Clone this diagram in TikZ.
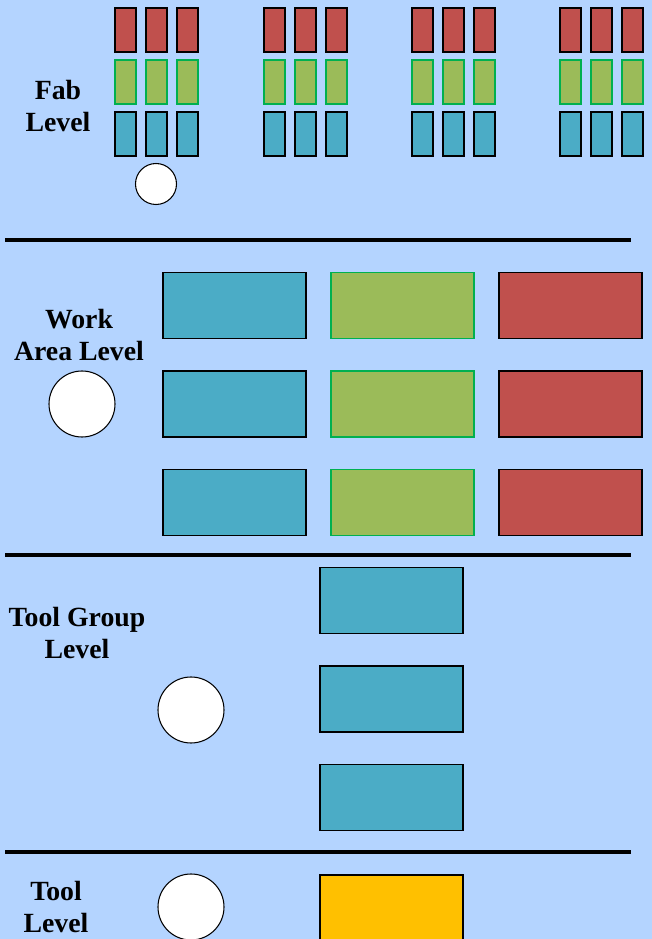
\documentclass[tikz,border=0pt]{standalone}
\usepackage{fontspec}
\setmainfont{Liberation Serif}
\usetikzlibrary{positioning}

\definecolor{pagebg}{RGB}{180,212,255}
\definecolor{cellred}{RGB}{192,80,77}
\definecolor{cellgreen}{RGB}{155,187,89}
\definecolor{cellblue}{RGB}{75,172,198}
\definecolor{cellorange}{RGB}{255,192,0}
\definecolor{edgegreen}{RGB}{0,176,80}

\begin{document}
\begin{tikzpicture}[
    line width=0.6pt,
    every node/.style={align=center},
    levellabel/.style={font=\bfseries\fontsize{15.8}{18.7}\selectfont},
    rule/.style={line width=2pt},
    toolA/.style={draw, fill=cellred, inner sep=0pt, minimum width=0.42cm, minimum height=0.88cm},
    toolB/.style={draw=edgegreen, fill=cellgreen, inner sep=0pt, minimum width=0.42cm, minimum height=0.88cm},
    toolC/.style={draw, fill=cellblue, inner sep=0pt, minimum width=0.42cm, minimum height=0.88cm},
    areaA/.style={draw, fill=cellred, inner sep=0pt, minimum width=2.86cm, minimum height=1.32cm},
    areaB/.style={draw=edgegreen, fill=cellgreen, inner sep=0pt, minimum width=2.86cm, minimum height=1.32cm},
    areaC/.style={draw, fill=cellblue, inner sep=0pt, minimum width=2.86cm, minimum height=1.32cm},
    toolbox/.style={draw, fill=cellorange, inner sep=0pt, minimum width=2.86cm, minimum height=1.32cm},
    token/.style={draw, circle, fill=white, inner sep=0pt}
]

% background
\fill[pagebg] (0,0) rectangle (13.04,18.78);
\useasboundingbox (0,0) rectangle (13.04,18.78);

% -------------------------------------------------
% FAB LEVEL
% -------------------------------------------------
\node[levellabel] (fab) at (1.16, 16.66) {Fab\\Level};

% four groups of tool columns
\foreach \g/\x in {1/2.51, 2/5.49, 3/8.45, 4/11.41} {
    \foreach \c in {0,1,2} {
        \node[toolA] (fabR\g\c) at (\x+0.62*\c, 18.18) {};
        \node[toolB] (fabG\g\c) at (\x+0.62*\c, 17.14) {};
        \node[toolC] (fabB\g\c) at (\x+0.62*\c, 16.10) {};
    }
}

\node[token, minimum size=0.82cm] (fablot) at (3.12, 15.10) {};

\draw[rule] (0.10, 13.98) -- (12.62, 13.98);

% -------------------------------------------------
% WORK AREA LEVEL
% -------------------------------------------------
\node[levellabel] (area) at (1.58, 12.08) {Work\\Area Level};

\node[areaC] (WA1) at (4.69, 12.67) {};
\node[areaB] (WB1) at (8.05, 12.67) {};
\node[areaA] (WR1) at (11.41, 12.67) {};

\node[areaC] (WA2) at (4.69, 10.70) {};
\node[areaB] (WB2) at (8.05, 10.70) {};
\node[areaA] (WR2) at (11.41, 10.70) {};

\node[areaC] (WA3) at (4.69, 8.73) {};
\node[areaB] (WB3) at (8.05, 8.73) {};
\node[areaA] (WR3) at (11.41, 8.73) {};

\node[token, minimum size=1.32cm] (arealot) at (1.64, 10.70) {};

\draw[rule] (0.10, 7.68) -- (12.62, 7.68);

% -------------------------------------------------
% TOOL GROUP LEVEL
% -------------------------------------------------
\node[levellabel] (group) at (1.54, 6.12) {Tool Group\\Level};

\node[areaC] (TG1) at (7.83, 6.77) {};
\node[areaC] (TG2) at (7.83, 4.80) {};
\node[areaC] (TG3) at (7.83, 2.83) {};

\node[token, minimum size=1.32cm] (grouplot) at (3.82, 4.58) {};

\draw[rule] (0.10, 1.74) -- (12.62, 1.74);

% -------------------------------------------------
% TOOL LEVEL
% -------------------------------------------------
\node[levellabel] (tool) at (1.12, 0.64) {Tool\\Level};

\node[toolbox] (T1) at (7.83, 0.62) {};

\node[token, minimum size=1.32cm] (toollot) at (3.82, 0.64) {};

\end{tikzpicture}
\end{document}
